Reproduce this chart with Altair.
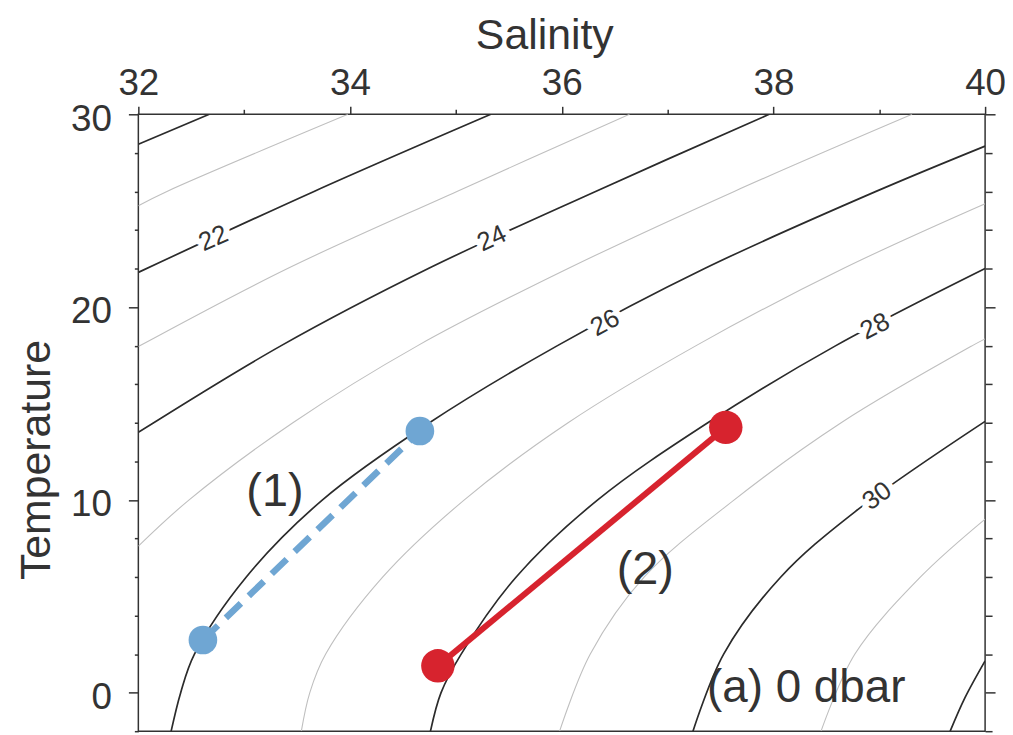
import altair as alt
import pandas as pd

# ---- density contour lines (Salinity S, Temperature T) ----
C20_S = [32.00, 32.67]
C20_T = [28.45, 30.0]
C21_S = [32.00, 32.27, 33.98]
C21_T = [25.26, 26.0, 30.0]
C22_S = [32.00, 33.66, 35.33]
C22_T = [21.8, 26.0, 30.0]
C23_S = [32.00, 33.41, 35.01, 36.64]
C23_T = [17.95, 22.0, 26.0, 30.0]
C24_S = [32.00, 33.35, 34.74, 36.32, 37.96]
C24_T = [13.5, 18.0, 22.0, 26.0, 30.0]
C25_S = [32.00, 32.48, 33.46, 34.64, 36.06, 37.63, 39.31]
C25_T = [7.6, 10.0, 14.0, 18.0, 22.0, 26.0, 30.0]
C26_S = [32.31, 32.40, 32.53, 33.02, 33.74, 34.75, 35.96, 37.35, 38.97, 40.0]
C26_T = [-2.0, 0.0, 2.0, 6.0, 10.0, 14.0, 18.0, 22.0, 26.0, 28.35]
C27_S = [33.54, 33.62, 33.77, 34.31, 35.08, 36.06, 37.27, 38.66, 40.0]
C27_T = [-2.0, 0.0, 2.0, 6.0, 10.0, 14.0, 18.0, 22.0, 25.36]
C28_S = [34.76, 34.86, 35.05, 35.57, 36.34, 37.38, 38.59, 40.0]
C28_T = [-2.0, 0.0, 2.0, 6.0, 10.0, 14.0, 18.0, 22.0]
C29_S = [35.98, 36.27, 36.78, 37.63, 38.64, 39.88, 40.0]
C29_T = [-2.0, 2.0, 6.0, 10.0, 14.0, 18.0, 18.35]
C30_S = [37.24, 37.53, 38.07, 38.77, 40.0]
C30_T = [-2.0, 2.0, 6.0, 9.38, 14.07]
C31_S = [38.45, 38.77, 39.39, 40.0]
C31_T = [-2.0, 2.0, 6.0, 9.0]
C32_S = [39.67, 39.81, 40.0]
C32_T = [-2.0, -0.26, 1.65]

# contour labels
LABEL_TEXT = ["22", "24", "26", "28", "30"]
LABEL_S = [32.71, 35.34, 36.41, 38.96, 38.98]
LABEL_T = [23.56, 23.56, 19.18, 19.0, 10.2]
LABEL_ANGLE = [336, 335, 332, 333, 324]

# water parcels
BLUE_S = [32.61, 34.66]
BLUE_T = [2.73, 13.57]
RED_S = [34.83, 37.55]
RED_T = [1.39, 13.76]

# annotations
NOTE_TEXT = ["(1)", "(2)", "(a) 0 dbar"]
NOTE_S = [33.29, 36.79, 38.31]
NOTE_T = [10.41, 6.34, 0.26]
NOTE_SIZE = [47, 47, 46]

X_MAJOR = [32, 34, 36, 38, 40]
X_MINOR = [33, 35, 37, 39]
Y_MAJOR = [0, 10, 20, 30]
Y_MINOR = [-2, 2, 4, 6, 8, 12, 14, 16, 18, 22, 24, 26, 28]

contours = {
    20: (C20_S, C20_T), 21: (C21_S, C21_T), 22: (C22_S, C22_T),
    23: (C23_S, C23_T), 24: (C24_S, C24_T), 25: (C25_S, C25_T),
    26: (C26_S, C26_T), 27: (C27_S, C27_T), 28: (C28_S, C28_T),
    29: (C29_S, C29_T), 30: (C30_S, C30_T), 31: (C31_S, C31_T),
    32: (C32_S, C32_T),
}
rows = []
for lvl, (ss, ts) in contours.items():
    for i, (s, t) in enumerate(zip(ss, ts)):
        rows.append({"level": lvl, "S": s, "T": t, "i": i})
cdf = pd.DataFrame(rows)
gray_df = cdf[cdf.level % 2 == 1]
black_df = cdf[cdf.level % 2 == 0]

lab_df = pd.DataFrame({"label": LABEL_TEXT, "S": LABEL_S, "T": LABEL_T, "ang": LABEL_ANGLE})
blue_df = pd.DataFrame({"S": BLUE_S, "T": BLUE_T})
red_df = pd.DataFrame({"S": RED_S, "T": RED_T})
pts_df = pd.DataFrame({
    "S": BLUE_S + RED_S, "T": BLUE_T + RED_T,
    "grp": ["blue", "blue", "red", "red"],
    "sz": [830, 830, 1130, 1130],
})
note_df = pd.DataFrame({"txt": NOTE_TEXT, "S": NOTE_S, "T": NOTE_T, "fs": NOTE_SIZE})

FONT = "Liberation Sans"
INK = "#333333"
BLUE = "#6fa6d3"
RED = "#d7232e"

xs = alt.Scale(domain=[32, 40], nice=False, zero=False)
ys = alt.Scale(domain=[-2, 30], nice=False, zero=False)

common = dict(domain=False, grid=False, tickColor=INK, tickWidth=1.5)

ax_top_major = alt.Axis(orient="top", values=X_MAJOR, tickSize=8, labelFontSize=37,
                        labelPadding=4, labelFlush=False, labelOverlap=False,
                        labelColor=INK, labelFont=FONT,
                        title="Salinity", titleFontSize=43, titleFontWeight="normal",
                        titleFont=FONT, titleColor=INK, titleX=408, titleY=-66,
                        titleBaseline="alphabetic", titleAlign="center", **common)
ax_top_minor = alt.Axis(orient="top", values=X_MINOR, tickSize=5, labels=False,
                        title=None, **common)
ax_left_major = alt.Axis(orient="left", values=Y_MAJOR, tickSize=10, labelFontSize=37,
                         labelPadding=17, labelOffset=5, labelOverlap=False,
                         labelFlush=False, labelColor=INK, labelFont=FONT,
                         title="Temperature", titleFontSize=43, titleFontWeight="normal",
                         titleFont=FONT, titleColor=INK, titleX=-89, titleY=347,
                         titleAngle=270, titleBaseline="alphabetic", titleAlign="center",
                         **common)
ax_left_minor = alt.Axis(orient="left", values=Y_MINOR, tickSize=4, labels=False,
                         title=None, **common)
ax_right_major = alt.Axis(orient="right", values=Y_MAJOR, tickSize=10, labels=False,
                          title=None, **common)
ax_right_minor = alt.Axis(orient="right", values=Y_MINOR, tickSize=7, labels=False,
                          title=None, **common)

gray = alt.Chart(gray_df).mark_line(interpolate="catmull-rom", color="#bfbfbf",
                                    strokeWidth=1.1, clip=True).encode(
    x=alt.X("S:Q", scale=xs, axis=ax_top_major),
    y=alt.Y("T:Q", scale=ys, axis=ax_left_major),
    detail="level:N", order="i:Q")

black = alt.Chart(black_df).mark_line(interpolate="catmull-rom", color="#2b2b2b",
                                      strokeWidth=1.7, clip=True).encode(
    x=alt.X("S:Q", scale=xs, axis=ax_top_minor),
    y=alt.Y("T:Q", scale=ys, axis=ax_left_minor),
    detail="level:N", order="i:Q")

halo = alt.Chart(lab_df).mark_text(font=FONT, fontSize=26, fill="white", stroke="white",
                                   strokeWidth=12, strokeJoin="round").encode(
    x=alt.X("S:Q", scale=xs, axis=None),
    y=alt.Y("T:Q", scale=ys, axis=ax_right_major),
    text="label:N", angle=alt.Angle("ang:Q", scale=None))

clab = alt.Chart(lab_df).mark_text(font=FONT, fontSize=26, color=INK).encode(
    x=alt.X("S:Q", scale=xs, axis=None),
    y=alt.Y("T:Q", scale=ys, axis=ax_right_minor),
    text="label:N", angle=alt.Angle("ang:Q", scale=None))

blue_line = alt.Chart(blue_df).mark_line(color=BLUE, strokeWidth=6.5,
                                         strokeDash=[21, 11]).encode(
    x=alt.X("S:Q", scale=xs, axis=None), y=alt.Y("T:Q", scale=ys, axis=None))

red_line = alt.Chart(red_df).mark_line(color=RED, strokeWidth=6).encode(
    x=alt.X("S:Q", scale=xs, axis=None), y=alt.Y("T:Q", scale=ys, axis=None))

pts = alt.Chart(pts_df).mark_circle(opacity=1).encode(
    x=alt.X("S:Q", scale=xs, axis=None), y=alt.Y("T:Q", scale=ys, axis=None),
    color=alt.Color("grp:N", scale=alt.Scale(domain=["blue", "red"], range=[BLUE, RED]),
                    legend=None),
    size=alt.Size("sz:Q", scale=None))

notes = alt.Chart(note_df).mark_text(font=FONT, color=INK, baseline="middle",
                                     align="center").encode(
    x=alt.X("S:Q", scale=xs, axis=None), y=alt.Y("T:Q", scale=ys, axis=None),
    text="txt:N", size=alt.Size("fs:Q", scale=None))

chart = alt.layer(gray, black, halo, clab, blue_line, red_line, pts, notes).resolve_axis(
    x="independent", y="independent"
).properties(
    width=851, height=620,
    padding={"left": 131, "top": 105, "right": 20, "bottom": 0},
    autosize=alt.AutoSizeParams(type="none"),
).configure_view(stroke=INK, strokeWidth=1.5)

chart.save("out.html", embed_options={"renderer": "svg", "actions": False})
